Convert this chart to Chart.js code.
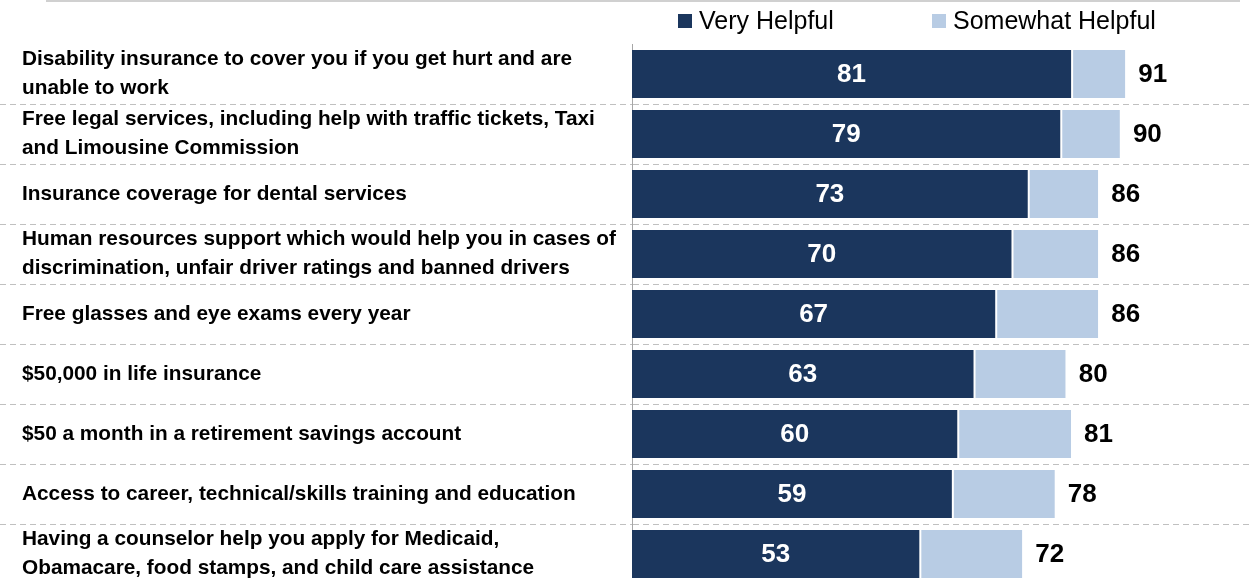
<!DOCTYPE html>
<html lang="en">
<head>
  <meta charset="UTF-8" />
  <title>Helpfulness of Benefits</title>
  <script src="https://cdn.jsdelivr.net/npm/chart.js"></script>
  <style>
    body { margin: 0; background: #fff; overflow: hidden; }
    .wrap { position: relative; width: 1250px; height: 614px; }
    .topline { position: absolute; left: 46px; top: 0; width: 1194px; height: 2px; background: #d0d0d0; }
    .legend span { position: absolute; top: 6px; display: inline-flex; align-items: center; font-family: "Liberation Sans", sans-serif; font-size: 25px; color: #000; }
    .legend i { display: inline-block; width: 14px; height: 14px; margin-right: 7px; }
  </style>
</head>
<body>
  <div class="wrap">
    <div class="topline"></div>
    <div class="legend">
      <span style="left:678px"><i style="background:#1b365d"></i>Very Helpful</span>
      <span style="left:932px"><i style="background:#b8cce4"></i>Somewhat Helpful</span>
    </div>
    <canvas id="chart" width="1250" height="614"></canvas>
  </div>
  <script>
    // data
    const categories = [
      ['Disability insurance to cover you if you get hurt and are', 'unable to work'],
      ['Free legal services, including help with traffic tickets, Taxi', 'and Limousine Commission'],
      'Insurance coverage for dental services',
      ['Human resources support which would help you in cases of', 'discrimination, unfair driver ratings and banned drivers'],
      'Free glasses and eye exams every year',
      '$50,000 in life insurance',
      '$50 a month in a retirement savings account',
      'Access to career, technical/skills training and education',
      ['Having a counselor help you apply for Medicaid,', 'Obamacare, food stamps, and child care assistance']
    ];
    const veryHelpful = [81, 79, 73, 70, 67, 63, 60, 59, 53];
    const somewhatHelpful = [10, 11, 13, 16, 19, 17, 21, 19, 19];
    const totalHelpful = [91, 90, 86, 86, 86, 80, 81, 78, 72];

    Chart.defaults.font.family = '"Liberation Sans", sans-serif';

    const valueLabels = {
      id: 'valueLabels',
      afterDatasetsDraw(chart) {
        const ctx = chart.ctx;
        ctx.save();
        ctx.textBaseline = 'middle';
        ctx.font = 'bold 26px "Liberation Sans", sans-serif';
        chart.getDatasetMeta(0).data.forEach((bar, i) => {
          ctx.fillStyle = '#fff';
          ctx.textAlign = 'center';
          ctx.fillText(veryHelpful[i], (bar.base + bar.x) / 2, bar.y + 1);
        });
        chart.getDatasetMeta(1).data.forEach((bar, i) => {
          ctx.fillStyle = '#000';
          ctx.textAlign = 'left';
          ctx.fillText(totalHelpful[i], bar.x + 13, bar.y + 1);
        });
        ctx.restore();
      }
    };

    const sepColor = (c) => c.index === 0 ? 'rgba(0,0,0,0)' : '#c0c0c0';

    new Chart(document.getElementById('chart'), {
      type: 'bar',
      data: {
        labels: categories,
        datasets: [
          { label: 'Very Helpful', data: veryHelpful, backgroundColor: '#1b365d', borderWidth: 0 },
          { label: 'Somewhat Helpful', data: somewhatHelpful, backgroundColor: '#b8cce4',
            borderColor: '#fff', borderWidth: { left: 2 }, borderSkipped: false }
        ]
      },
      options: {
        indexAxis: 'y',
        responsive: false,
        animation: false,
        layout: { padding: { top: 44, bottom: 30, left: 22, right: 0 } },
        datasets: { bar: { categoryPercentage: 1, barPercentage: 0.8 } },
        plugins: { legend: { display: false }, tooltip: { enabled: false } },
        scales: {
          x: { stacked: true, min: 0, max: 114, display: false },
          y: {
            stacked: true,
            afterFit: (s) => { s.width = 610; },
            border: { display: true, color: '#a6a6a6', width: 1, dash: [6, 4] },
            grid: {
              color: sepColor, tickColor: sepColor, lineWidth: 1,
              tickBorderDash: [6, 4],
              drawTicks: true, tickLength: 632
            },
            ticks: {
              autoSkip: false,
              crossAlign: 'far', padding: 0, color: '#000',
              font: { size: 20.8, weight: 'bold', lineHeight: 1.39 }
            }
          }
        }
      },
      plugins: [valueLabels]
    });
  </script>
</body>
</html>
